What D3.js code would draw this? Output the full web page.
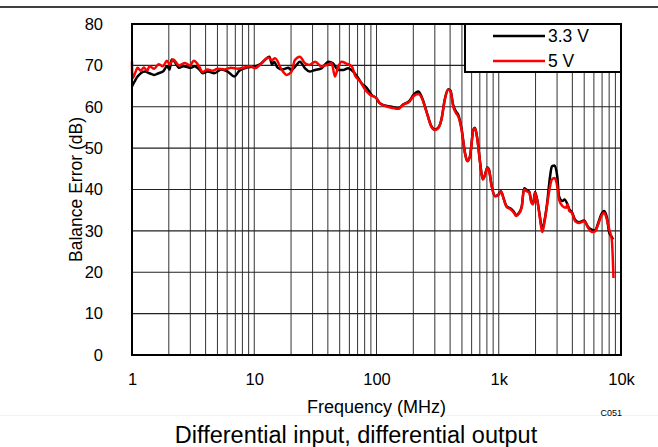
<!DOCTYPE html>
<html>
<head>
<meta charset="utf-8">
<script src="https://cdn.jsdelivr.net/npm/d3@7"></script>
<style>
body { margin: 0; background: #fff; }
svg { display: block; font-family: Arial, "Liberation Sans", sans-serif; }
</style>
</head>
<body>
<div class="chart"></div>
<script>

var width = 658,
  height = 447;

var plotLeft = 132, plotRight = 621, plotTop = 24, plotBottom = 355;

//DATA  [frequency MHz, balance error dB]
var series33V = [[1.0,64.9],[1.05,66.1],[1.11,67.3],[1.18,68.1],[1.28,68.5],[1.39,68.1],[1.52,67.7],[1.65,68.1],[1.79,68.5],[1.94,69.8],[2.03,69.0],[2.11,71.4],[2.22,71.0],[2.43,69.4],[2.64,69.8],[3.04,69.4],[3.24,69.8],[3.56,69.0],[3.78,68.1],[4.16,68.5],[4.72,68.1],[5.35,69.0],[6.07,68.5],[6.88,67.3],[7.55,68.7],[8.57,69.4],[10.3,69.8],[11.3,70.4],[12.2,71.3],[13.3,72.1],[14.0,70.2],[14.5,70.9],[15.5,69.5],[17.0,69.0],[19.0,69.4],[20.0,68.9],[22.2,70.1],[23.6,70.9],[26,69.3],[28.3,68.5],[31.5,68.9],[35.5,69.3],[40.5,70.9],[44,70.5],[48.6,68.9],[53.5,68.9],[58.5,69.3],[64.5,68.5],[71,66.9],[75.5,65.7],[83.4,64.5],[91,62.9],[100,62.0],[106,60.9],[117,60.3],[137,59.9],[150,59.6],[166,60.6],[187,61.5],[200,62.8],[220,63.7],[235,62.3],[258,58.6],[281,55.3],[300,54.5],[319,54.9],[340,57.0],[362,61.8],[386,64.2],[403,63.9],[424,60.4],[446,58.9],[466,58.1],[497,54.6],[529,48.9],[553,46.9],[582,48.1],[620,54.5],[640,54.9],[669,52.1],[704,46.5],[740,42.5],[767,43.3],[807,45.3],[830,44.9],[876,40.8],[934,38.4],[996,38.8],[1042,39.6],[1100,37.7],[1160,35.9],[1250,35.4],[1330,34.6],[1390,33.8],[1450,34.2],[1540,35.8],[1610,40.3],[1690,39.9],[1780,39.4],[1850,37.0],[1910,36.6],[1980,39.4],[2080,37.0],[2160,33.9],[2270,30.3],[2360,32.3],[2480,36.4],[2630,43.2],[2720,45.6],[2860,45.8],[3010,43.2],[3110,38.4],[3320,37.2],[3450,37.6],[3650,36.4],[3780,35.2],[3960,34.6],[4230,32.6],[4530,32.1],[4990,32.5],[5390,30.9],[5760,30.3],[6140,30.1],[6490,31.8],[6900,34.0],[7280,34.8],[7670,33.2],[8020,29.5],[8410,28.5],[8600,27.9]];

var series5V = [[1.0,71.0],[1.005,66.8],[1.06,68.1],[1.11,69.4],[1.18,68.7],[1.25,69.5],[1.33,68.7],[1.39,69.8],[1.52,69.2],[1.65,70.3],[1.79,69.8],[1.93,71.1],[2.04,70.2],[2.17,71.4],[2.43,70.0],[2.72,70.6],[2.98,70.0],[3.2,71.1],[3.5,70.0],[3.78,68.4],[4.16,69.0],[4.58,68.7],[5.0,69.2],[5.7,69.0],[6.45,69.4],[7.3,69.2],[8.3,69.5],[9.4,69.8],[10.1,69.3],[11.5,70.5],[13.0,71.9],[13.9,71.3],[14.8,71.7],[16.8,68.9],[18.4,67.7],[20.2,68.5],[21.5,71.3],[23.6,72.1],[26,70.5],[28.3,70.1],[31.5,70.9],[35.5,69.7],[39,70.1],[43,70.5],[45.7,67.3],[48.6,69.7],[52,70.9],[56,70.5],[63,69.7],[66.5,67.7],[73.5,66.1],[81,64.1],[88.5,62.9],[100,62.1],[106,60.9],[117,60.2],[137,59.7],[150,59.5],[166,60.5],[187,61.3],[200,62.5],[220,63.1],[235,62.1],[258,58.5],[281,55.2],[300,54.4],[319,54.8],[340,56.9],[362,61.7],[386,64.1],[403,63.7],[424,60.1],[446,58.5],[466,57.7],[497,54.4],[529,48.8],[553,46.8],[582,48.0],[620,54.4],[640,54.8],[669,52.0],[704,46.4],[740,42.4],[767,43.2],[807,45.2],[830,44.8],[876,40.7],[934,38.3],[996,38.7],[1042,39.5],[1100,37.6],[1160,35.8],[1250,35.2],[1330,34.4],[1390,33.6],[1450,34.0],[1540,35.6],[1610,40.0],[1690,39.6],[1780,39.2],[1850,36.8],[1910,36.4],[1980,39.2],[2080,36.8],[2160,33.6],[2270,29.7],[2360,31.9],[2480,36.0],[2600,40.0],[2720,42.4],[2860,42.8],[3010,40.8],[3110,37.6],[3320,36.0],[3550,35.6],[3650,36.4],[3780,34.8],[3960,34.4],[4230,32.3],[4530,31.9],[4990,32.3],[5390,30.7],[5760,29.7],[6140,29.9],[6490,31.5],[6900,33.6],[7280,34.4],[7670,32.7],[8020,30.3],[8410,27.9],[8680,18.6]];

var seriesNames = ['3.3 V', '5 V'];
var seriesColors = ['#000', '#ff0000'];

var xTickValues = [1, 10, 100, 1000, 10000];
var xTickLabels = ['1', '10', '100', '1k', '10k'];
var yTickValues = [0, 10, 20, 30, 40, 50, 60, 70, 80];

var svg = d3.select('.chart')
  .append('svg')
  .attr('width', width)
  .attr('height', height);

//SCALES
var xScale = d3.scaleLog()
  .domain([1, 10000])
  .range([plotLeft, plotRight]);

var yScale = d3.scaleLinear()
  .domain([0, 80])
  .range([plotBottom, plotTop]);

//rule at the top of the page + faint one under the axis title
svg.append('line')
  .attr('x1', 0).attr('x2', width)
  .attr('y1', 7).attr('y2', 7)
  .attr('stroke', '#000')
  .attr('stroke-width', 1.5);

svg.append('line')
  .attr('x1', 0).attr('x2', width)
  .attr('y1', 415.5).attr('y2', 415.5)
  .attr('stroke', '#f2f2f2')
  .attr('stroke-width', 1);

//GRID
var gridX = xScale.ticks().filter(function(d) { return d > 1 && d < 10000; });

svg.append('g')
  .selectAll('line')
  .data(gridX)
  .enter()
  .append('line')
  .attr('x1', function(d) { return xScale(d); })
  .attr('x2', function(d) { return xScale(d); })
  .attr('y1', plotTop)
  .attr('y2', plotBottom)
  .attr('stroke', '#333')
  .attr('stroke-width', 1);

svg.append('g')
  .selectAll('line')
  .data(yTickValues.slice(1, -1))
  .enter()
  .append('line')
  .attr('x1', plotLeft)
  .attr('x2', plotRight)
  .attr('y1', function(d) { return yScale(d); })
  .attr('y2', function(d) { return yScale(d); })
  .attr('stroke', '#222')
  .attr('stroke-width', 1.2);

//AXES (labels only, no tick marks)
var xAxis = d3.axisBottom(xScale)
  .tickValues(xTickValues)
  .tickFormat(function(d, i) { return xTickLabels[i]; })
  .tickSize(0)
  .tickPadding(18);

var yAxis = d3.axisLeft(yScale)
  .tickValues(yTickValues)
  .tickFormat(d3.format('d'))
  .tickSize(0)
  .tickPadding(29);

var xAxisG = svg.append('g')
  .attr('transform', 'translate(0,' + plotBottom + ')')
  .call(xAxis);

var yAxisG = svg.append('g')
  .attr('transform', 'translate(' + plotLeft + ',0)')
  .call(yAxis);

[xAxisG, yAxisG].forEach(function(g) {
  g.select('.domain').remove();
  g.attr('font-family', null).attr('font-size', 16.5);
  g.selectAll('text').attr('fill', '#000');
});

//LINES
var line = d3.line()
  .x(function(d) { return xScale(d[0]); })
  .y(function(d) { return yScale(d[1]); })
  .curve(d3.curveMonotoneX);

[series33V, series5V].forEach(function(s, i) {
  svg.append('path')
    .datum(s)
    .attr('d', line)
    .attr('fill', 'none')
    .attr('stroke', seriesColors[i])
    .attr('stroke-width', 2.5)
    .attr('stroke-linejoin', 'round');
});

//FRAME
svg.append('rect')
  .attr('x', plotLeft)
  .attr('y', plotTop)
  .attr('width', plotRight - plotLeft)
  .attr('height', plotBottom - plotTop)
  .attr('fill', 'none')
  .attr('stroke', '#000')
  .attr('stroke-width', 2);

//LEGEND
var legend = svg.append('g');

legend.append('rect')
  .attr('x', 465)
  .attr('y', plotTop)
  .attr('width', plotRight - 465)
  .attr('height', 48)
  .attr('fill', '#fff')
  .attr('stroke', '#000')
  .attr('stroke-width', 2);

seriesNames.forEach(function(name, i) {
  var ly = 36 + i * 25;
  legend.append('line')
    .attr('x1', 493).attr('x2', 545)
    .attr('y1', ly).attr('y2', ly)
    .attr('stroke', seriesColors[i])
    .attr('stroke-width', 2.5);
  legend.append('text')
    .attr('x', 548)
    .attr('y', ly)
    .attr('dy', '0.35em')
    .attr('font-size', 17.5)
    .text(name);
});

//TITLES
svg.append('text')
  .attr('transform', 'rotate(-90)')
  .attr('x', -(plotTop + plotBottom) / 2)
  .attr('y', 82)
  .attr('text-anchor', 'middle')
  .attr('font-size', 17.5)
  .text('Balance Error (dB)');

svg.append('text')
  .attr('x', (plotLeft + plotRight) / 2)
  .attr('y', 413)
  .attr('text-anchor', 'middle')
  .attr('font-size', 18)
  .text('Frequency (MHz)');

svg.append('text')
  .attr('x', plotRight + 1)
  .attr('y', 416)
  .attr('text-anchor', 'end')
  .attr('font-size', 9)
  .text('C051');

svg.append('text')
  .attr('x', 356)
  .attr('y', 443)
  .attr('text-anchor', 'middle')
  .attr('font-size', 23.5)
  .text('Differential input, differential output');

</script>
</body>
</html>
